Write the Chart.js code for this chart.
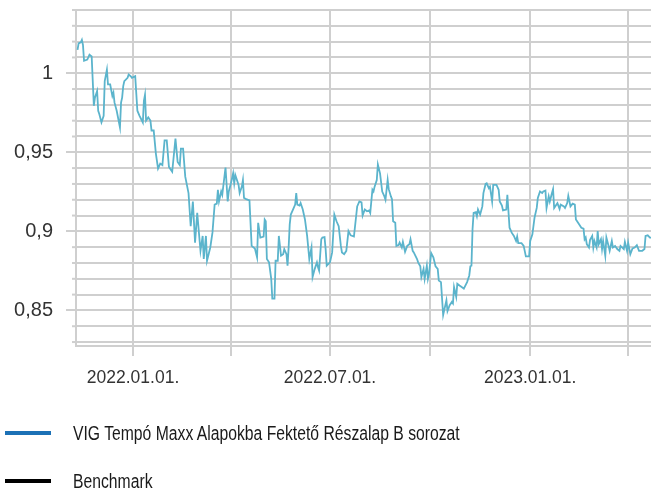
<!doctype html>
<html>
<head>
<meta charset="utf-8">
<title>VIG Tempó Maxx - árfolyam</title>
<style>
  html, body { margin: 0; padding: 0; background: #fff; }
  #wrap { position: relative; width: 651px; height: 400px; }
  #legend { position: absolute; left: 0; top: 0; width: 651px; height: 489px; pointer-events: none;
            font-family: "Liberation Sans Narrow", "Liberation Sans", sans-serif; font-size: 19.5px; color: #1a1a1a; }
  .item { position: absolute; left: 0; height: 24px; width: 651px; }
  .swatch { position: absolute; left: 5px; top: 10px; width: 46px; height: 4px; }
  .label { position: absolute; left: 73px; top: 0; line-height: 24px; white-space: nowrap;
           transform: scaleX(0.806); transform-origin: 0 50%; }
</style>
<script src="https://cdn.jsdelivr.net/npm/chart.js@4.4.0/dist/chart.umd.min.js"></script>
</head>
<body>
<div id="wrap"><canvas id="fundChart"></canvas></div>
<div id="legend"></div>
<script>
// series names / legend colours
const seriesNames = ['VIG Tempó Maxx Alapokba Fektető Részalap B sorozat', 'Benchmark'];
const legendColors = ['#1c71b6', '#000000'];

// x axis: quarter gridlines, only every second one labelled
const quarterDates = ['2022-01-01', '2022-04-01', '2022-07-01', '2022-10-01', '2023-01-01', '2023-04-01'];
const quarterLabels = ['2022.01.01.', '', '2022.07.01.', '', '2023.01.01.', ''];

// y axis: gridline values and the labelled ones
const yGridValues = [0.83, 0.84, 0.85, 0.86, 0.87, 0.88, 0.89, 0.90, 0.91, 0.92, 0.93,
                     0.94, 0.95, 0.96, 0.97, 0.98, 0.99, 1.00, 1.01, 1.02, 1.03, 1.04];
const yLabelValues = [0.85, 0.90, 0.95, 1.00];
const yLabelTexts = ['0,85', '0,9', '0,95', '1'];

// fund price (days counted from 2022.01.01.)
const fundDays = [
  -51,-50,-48,-47,-46,-45,-42,-40,-38,-36,
  -35,-33,-32,-31,-29,-27,-26,-24,-23,-21,
  -19,-18,-17,-15,-12,-11,-10,-9,-8,-5,
  -4,-2,-1,2,4,6,9,10,11,12,
  14,16,17,19,21,23,25,27,29,31,
  33,36,39,41,43,44,46,48,51,53,
  55,57,59,62,64,65,67,68,71,73,
  75,77,78,79,81,82,85,87,88,90,
  92,93,94,97,98,100,101,102,104,107,
  109,112,114,115,117,120,121,122,123,125,
  127,128,130,131,133,134,136,138,139,141,
  142,143,144,145,147,149,150,151,153,154,
  156,158,160,162,164,165,167,169,170,171,
  173,174,176,177,178,181,183,185,187,189,
  191,192,194,196,198,200,203,206,208,210,
  211,213,215,217,218,220,221,222,224,225,
  227,229,231,232,234,235,237,238,239,241,
  242,244,245,247,248,250,252,254,255,257,
  258,261,262,264,265,267,268,270,271,272,
  274,276,278,280,281,283,285,288,289,291,
  293,294,295,297,298,300,302,304,307,309,
  310,311,312,313,315,316,317,319,321,322,
  324,325,327,328,330,331,334,336,337,339,
  340,343,344,345,346,348,350,352,353,354,
  357,359,361,364,365,367,369,371,372,374,
  376,377,379,380,382,383,385,386,387,389,
  390,392,393,396,397,399,400,402,404,406,
  407,409,412,414,415,416,417,419,420,422,
  423,424,426,427,428,430,431,432,434,435,
  437,438,440,441,443,445,447,448,451,452,
  454,455,457,459,461,463,465,468,470,471,
  473,475,476
];
const fundValues = [
  1.0148,1.0189,1.0196,1.0211,1.0179,1.0079,1.0086,1.0117,1.0106,0.9794,
  0.9846,0.9888,0.9763,0.9742,0.9689,0.9731,0.9950,1.0023,0.9929,0.9929,
  0.9856,0.9877,0.9814,0.9763,0.9658,0.9814,0.9846,0.9919,0.9950,0.9971,
  0.9992,0.9981,0.9971,0.9981,0.9763,0.9731,0.9689,0.9825,0.9863,0.9700,
  0.9721,0.9700,0.9638,0.9638,0.9492,0.9398,0.9429,0.9419,0.9575,0.9575,
  0.9408,0.9377,0.9586,0.9439,0.9419,0.9523,0.9523,0.9346,0.9242,0.9033,
  0.9189,0.8929,0.9117,0.8877,0.8971,0.8825,0.8971,0.8814,0.8898,0.8992,
  0.9169,0.9175,0.9263,0.9189,0.9252,0.9231,0.9404,0.9189,0.9252,0.9304,
  0.9367,0.9304,0.9356,0.9294,0.9242,0.9283,0.9325,0.9211,0.9204,0.9196,
  0.8908,0.8892,0.8836,0.9054,0.8961,0.8967,0.9075,0.9064,0.8825,0.8804,
  0.8700,0.8575,0.8575,0.8814,0.8814,0.8971,0.8846,0.8856,0.8888,0.8856,
  0.8783,0.8898,0.9044,0.9106,0.9138,0.9169,0.9242,0.9169,0.9163,0.9179,
  0.9138,0.9075,0.8971,0.8825,0.8898,0.8711,0.8763,0.8804,0.8773,0.8752,
  0.8950,0.8961,0.8964,0.8888,0.8783,0.8804,0.8867,0.9106,0.9064,0.9033,
  0.8908,0.8867,0.8856,0.8877,0.9002,0.8975,0.8967,0.9158,0.9189,0.9183,
  0.9100,0.9138,0.9127,0.9133,0.9117,0.9263,0.9252,0.9283,0.9325,0.9423,
  0.9367,0.9252,0.9221,0.9200,0.9325,0.9267,0.9221,0.9204,0.9064,0.9054,
  0.8908,0.8913,0.8929,0.8898,0.8933,0.8871,0.8908,0.8919,0.8950,0.8877,
  0.8867,0.8825,0.8804,0.8779,0.8711,0.8763,0.8700,0.8783,0.8700,0.8731,
  0.8863,0.8836,0.8779,0.8763,0.8689,0.8679,0.8471,0.8564,0.8496,0.8533,
  0.8554,0.8544,0.8648,0.8586,0.8669,0.8658,0.8648,0.8638,0.8679,0.8721,
  0.8779,0.8783,0.9013,0.9117,0.9121,0.9096,0.9138,0.9106,0.9158,0.9242,
  0.9300,0.9304,0.9273,0.9283,0.9189,0.9294,0.9294,0.9263,0.9189,0.9163,
  0.9133,0.9138,0.9231,0.9127,0.9023,0.8992,0.8971,0.8939,0.8967,0.8925,
  0.8925,0.8908,0.8842,0.8842,0.8939,0.8981,0.9088,0.9148,0.9211,0.9252,
  0.9242,0.9252,0.9258,0.9148,0.9221,0.9189,0.9242,0.9267,0.9148,0.9169,
  0.9179,0.9142,0.9169,0.9158,0.9148,0.9179,0.9225,0.9158,0.9175,0.9169,
  0.9075,0.9054,0.9023,0.9017,0.8950,0.8961,0.8919,0.8898,0.8946,0.8971,
  0.8898,0.8939,0.8898,0.9002,0.8919,0.8950,0.8888,0.8939,0.8846,0.8961,
  0.8908,0.8877,0.8939,0.8898,0.8908,0.8888,0.8877,0.8908,0.8888,0.8933,
  0.8877,0.8929,0.8856,0.8892,0.8898,0.8913,0.8877,0.8877,0.8888,0.8971,
  0.8975,0.8961,0.8961
];
// benchmark has no visible points in the picture, only its legend entry
const benchmarkValues = [];

const DAY = 86400000;
function dayOf(s) {
    return (Date.parse(s) - Date.parse('2022-01-01')) / DAY;
}
function near(a, b) { return Math.abs(a - b) < 1e-6; }
function yLabelIndex(v) { return yLabelValues.findIndex(x => near(x, v)); }

const gridColor = '#cfcfcf';
const quarterDays = quarterDates.map(dayOf);

// short marks on the unlabelled y gridlines
const minorTicks = {
    id: 'minorTicks',
    afterDraw(chart) {
	let sc = chart.scales.y;
	let ctx = chart.ctx;
	ctx.save();
	ctx.strokeStyle = gridColor;
	ctx.lineWidth = 2;
	sc.ticks.forEach(t => {
	    if (yLabelIndex(t.value) >= 0) return;
	    let py = sc.getPixelForValue(t.value);
	    ctx.beginPath();
	    ctx.moveTo(sc.right - 4, py);
	    ctx.lineTo(sc.right, py);
	    ctx.stroke();
	});
	ctx.restore();
    }
};

let ctx = document.getElementById('fundChart');
let chart = new Chart(ctx, {
    type: 'line',
    data: {
	datasets: [{
	    label: seriesNames[0],
	    data: fundDays.map((d, i) => ({x: d, y: fundValues[i]})),
	    borderColor: '#5bb4cc',
	    borderWidth: 1.8,
	    pointRadius: 0,
	    fill: false,
	    tension: 0
	}, {
	    label: seriesNames[1],
	    data: benchmarkValues,
	    borderColor: '#000000',
	    borderWidth: 1.8,
	    pointRadius: 0,
	    fill: false
	}]
    },
    options: {
	responsive: true,
	maintainAspectRatio: false,
	animation: false,
	layout: { padding: { top: 10, right: 0, bottom: 0, left: 0 } },
	plugins: { legend: { display: false }, tooltip: { enabled: false } },
	scales: {
	    x: {
		type: 'linear',
		min: -52.4,
		max: 476,
		afterBuildTicks: (scale) => { scale.ticks = quarterDays.map(v => ({value: v})); },
		afterFit: (scale) => { scale.height = 54; scale.paddingLeft = 0; scale.paddingRight = 0; },
		grid: { color: gridColor, lineWidth: 2, tickLength: 10, tickColor: gridColor, tickWidth: 2 },
		border: { color: gridColor, width: 2 },
		ticks: {
		    autoSkip: false,
		    maxRotation: 0,
		    padding: 12,
		    color: '#333333',
		    font: { family: '"Liberation Sans Narrow", "Liberation Sans", sans-serif', size: 17.5 },
		    callback: (v) => {
			let i = quarterDays.findIndex(d => near(d, v));
			return i >= 0 ? quarterLabels[i] : '';
		    }
		}
	    },
	    y: {
		min: 0.8275,
		max: 1.04,
		afterBuildTicks: (scale) => { scale.ticks = yGridValues.map(v => ({value: v})); },
		afterFit: (scale) => { scale.width = 76; scale.paddingTop = 0; scale.paddingBottom = 0; },
		grid: {
		    color: gridColor, lineWidth: 2, tickLength: 10, tickWidth: 2,
		    tickColor: (c) => (c.tick && yLabelIndex(c.tick.value) >= 0) ? gridColor : 'rgba(0,0,0,0)'
		},
		border: { color: gridColor, width: 2 },
		ticks: {
		    autoSkip: false,
		    padding: 13,
		    color: '#333333',
		    font: { family: '"Liberation Sans", sans-serif', size: 20, lineHeight: 1 },
		    callback: (v) => {
			let i = yLabelIndex(v);
			return i >= 0 ? yLabelTexts[i] : '';
		    }
		}
	    }
	}
    },
    plugins: [minorTicks]
});

// legend: one entry per line under the chart
let legendTops = [421, 469];
let legend = document.getElementById('legend');
chart.data.datasets.forEach((ds, i) => {
    let item = document.createElement('div');
    item.className = 'item';
    item.style.top = legendTops[i] + 'px';
    item.innerHTML = '<span class="swatch" style="background:' + legendColors[i] + '"></span>' +
	'<span class="label"></span>';
    item.querySelector('.label').textContent = ds.label;
    legend.appendChild(item);
});
</script>
</body>
</html>
